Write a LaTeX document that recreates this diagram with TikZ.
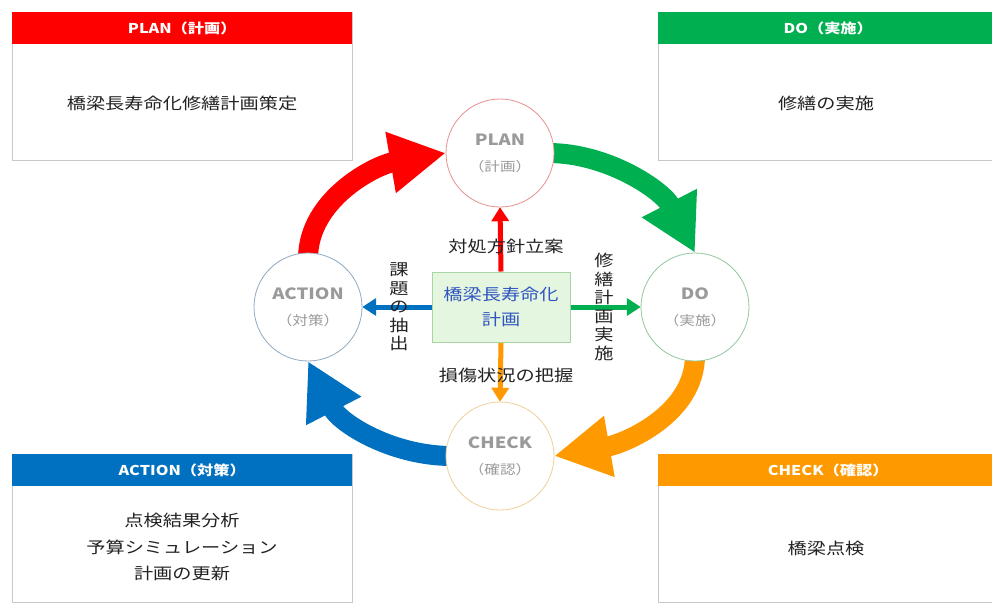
\documentclass[tikz,border=0pt]{standalone}
\usepackage{fontspec}
\setmainfont{Noto Sans CJK JP}[FakeStretch=1.2]
\usetikzlibrary{arrows.meta}
\definecolor{pdcared}{HTML}{FF0000}
\definecolor{pdcagreen}{HTML}{00B050}
\definecolor{pdcablue}{HTML}{0070C0}
\definecolor{pdcaorange}{HTML}{FF9900}
\definecolor{panelline}{HTML}{C8C8C8}
\definecolor{phasegray}{HTML}{9A9A9A}
\definecolor{corefill}{HTML}{E4F6E0}
\definecolor{coreline}{HTML}{A9D5A4}
\definecolor{coretext}{HTML}{2F55C0}
\definecolor{inktext}{HTML}{222222}
\definecolor{planring}{HTML}{E89090}
\definecolor{doring}{HTML}{90C8A0}
\definecolor{checkring}{HTML}{F0D098}
\definecolor{actionring}{HTML}{90A8C0}

\begin{document}
\begin{tikzpicture}[x=1pt,y=-1pt,
  panel/.style={draw=panelline, line width=1pt, fill=white, minimum width=340pt,
    minimum height=148pt, anchor=north west, inner sep=0pt},
  hdr/.style={fill=#1, text=white, font=\fontsize{13.5}{16}\selectfont\bfseries,
    minimum width=340pt, minimum height=32pt, anchor=north west, inner sep=0pt},
  bodytext/.style={text=inktext, font=\fontsize{16}{26.5}\selectfont, align=center, inner sep=0pt},
  phase/.style={circle, draw=#1, line width=0.8pt, fill=white, minimum size=108pt,
    inner sep=0pt, align=center, text=phasegray, font=\fontsize{13}{26}\selectfont},
  core/.style={draw=coreline, fill=corefill, line width=1pt, minimum width=138pt,
    minimum height=70pt, inner sep=0pt, align=center, text=coretext,
    font=\fontsize{16}{25}\selectfont},
  cycle/.style={draw=#1, line width=20pt, -{Triangle[length=56pt,width=58pt]}},
  feed/.style={draw=#1, line width=5pt, -{Triangle[length=14pt,width=17pt]}},
  tag/.style={text=inktext, font=\fontsize{16}{18.5}\selectfont, align=center, inner sep=0pt},
]
\useasboundingbox (0,0) rectangle (992,602);
\clip (0,0) rectangle (992,602);

% corner panels with coloured headers
\node[panel] (planpanel) at (12,12) {};
\node[hdr=pdcared] (planhdr) at (12,12) {PLAN（計画）};
\node[bodytext] (planbody) at (182,103) {橋梁長寿命化修繕計画策定};

\node[panel] (dopanel) at (658,12) {};
\node[hdr=pdcagreen] (dohdr) at (658,12) {DO（実施）};
\node[bodytext] (dobody) at (826,103) {修繕の実施};

\node[panel] (actionpanel) at (12,454) {};
\node[hdr=pdcablue] (actionhdr) at (12,454) {ACTION（対策）};
\node[bodytext] (actionbody) at (182,547) {点検結果分析\\予算シミュレーション\\計画の更新};

\node[panel] (checkpanel) at (658,454) {};
\node[hdr=pdcaorange] (checkhdr) at (658,454) {CHECK（確認）};
\node[bodytext] (checkbody) at (826,548) {橋梁点検};

% phase positions (circles drawn later, over the arrows)
\coordinate (planc) at (500,153);
\coordinate (doc) at (695,307);
\coordinate (checkc) at (500,456);
\coordinate (actionc) at (308,307);

% reference shapes for the cycle arrows
\path (planc) node[circle, minimum size=108pt, inner sep=0pt] (plan) {};
\path (doc) node[circle, minimum size=108pt, inner sep=0pt] (do) {};
\path (checkc) node[circle, minimum size=108pt, inner sep=0pt] (check) {};
\path (actionc) node[circle, minimum size=108pt, inner sep=0pt] (action) {};
\node[core] (core) at (501,307) {};

% PDCA cycle arrows
\draw[cycle=pdcared] ([yshift=-6pt]action.north) .. controls +(0,-60) and +(-70,12) .. (plan.west);
\draw[cycle=pdcagreen] ([xshift=-6pt]plan.east) .. controls +(60,0) and +(-32,-62) .. (do.north);
\draw[cycle=pdcaorange] ([yshift=6pt]do.south) .. controls +(0,60) and +(69,-12) .. (check.east);
\draw[cycle=pdcablue] ([xshift=6pt]check.west) .. controls +(-60,0) and +(32,62) .. (action.south);

% arrows from the central plan to each phase
\draw[feed=pdcared] (core.north) -- (plan.south);
\draw[feed=pdcagreen] (core.east) -- (do.west);
\draw[feed=pdcaorange] (core.south) -- (check.north);
\draw[feed=pdcablue] (core.west) -- (action.east);

% phase circles
\node[phase=planring] (plancircle) at (planc) {{\fontsize{15.5}{26}\selectfont\bfseries PLAN}\\（計画）};
\node[phase=doring] (docircle) at (doc) {{\fontsize{15.5}{26}\selectfont\bfseries DO}\\（実施）};
\node[phase=checkring] (checkcircle) at (checkc) {{\fontsize{15.5}{26}\selectfont\bfseries CHECK}\\（確認）};
\node[phase=actionring] (actioncircle) at (actionc) {{\fontsize{15.5}{26}\selectfont\bfseries ACTION}\\（対策）};

% central plan
\node[core] (coretext) at (501,307) {橋梁長寿命化\\計画};

% labels on the feed arrows
\node[tag] (tagplan) at (506,246) {対処方針立案};
\node[tag] (tagcheck) at (506,375) {損傷状況の把握};
\node[tag] (tagaction) at (399,307) {課\\題\\の\\抽\\出};
\node[tag] (tagdo) at (604,307) {修\\繕\\計\\画\\実\\施};
\end{tikzpicture}
\end{document}
